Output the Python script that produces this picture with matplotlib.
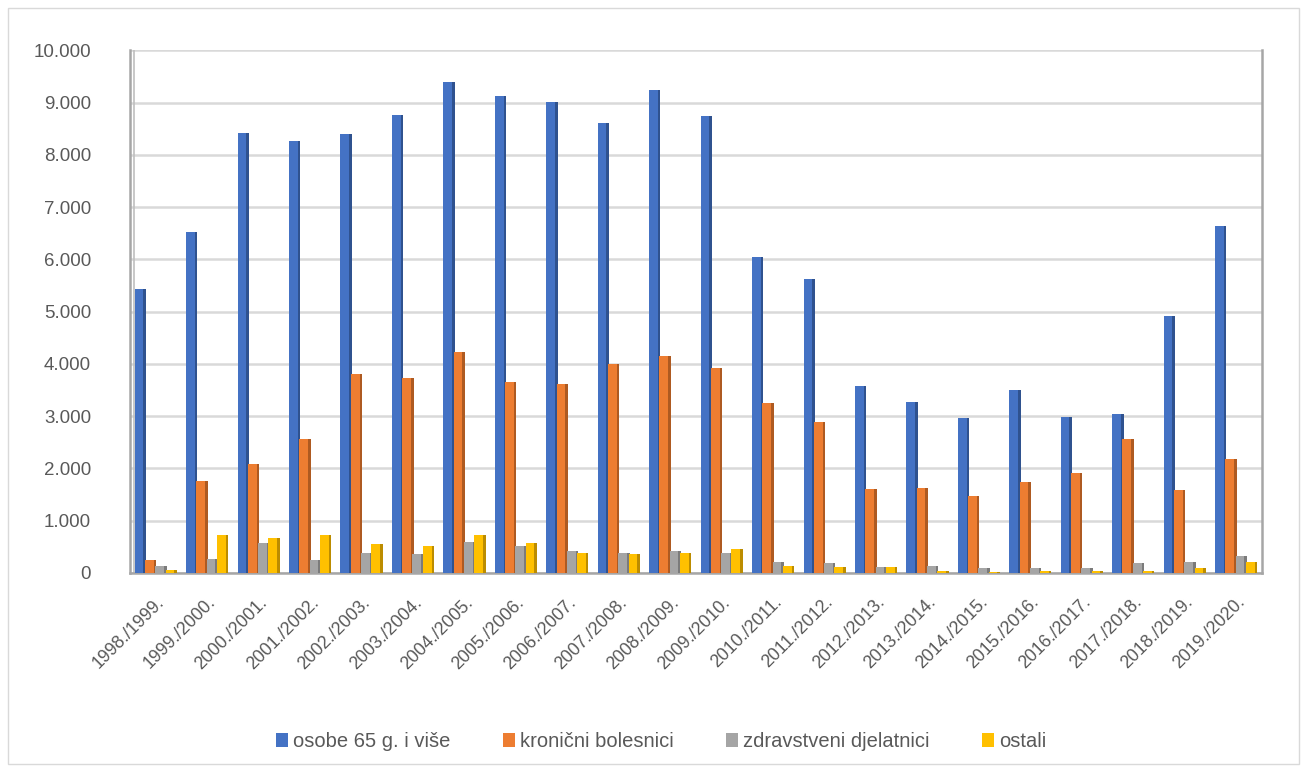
import matplotlib.pyplot as plt
from matplotlib.patches import Rectangle
import numpy as np

plt.rcParams['font.family'] = ['Liberation Sans', 'DejaVu Sans']

seasons = ["1998./1999.", "1999./2000.", "2000./2001.", "2001./2002.", "2002./2003.",
           "2003./2004.", "2004./2005.", "2005./2006.", "2006./2007.", "2007./2008.",
           "2008./2009.", "2009./2010.", "2010./2011.", "2011./2012.", "2012./2013.",
           "2013./2014.", "2014./2015.", "2015./2016.", "2016./2017.", "2017./2018.",
           "2018./2019.", "2019./2020."]

osobe_65 = [5430, 6530, 8420, 8270, 8400, 8770, 9390, 9120, 9020, 8610, 9240,
            8750, 6050, 5630, 3570, 3270, 2970, 3500, 2990, 3050, 4920, 6630]
kronicni = [240, 1760, 2080, 2570, 3810, 3740, 4230, 3650, 3620, 3990, 4150,
            3920, 3250, 2890, 1600, 1620, 1470, 1750, 1910, 2560, 1580, 2180]
zdravstveni = [140, 270, 580, 240, 390, 355, 600, 525, 420, 390, 430,
               390, 205, 185, 120, 135, 90, 100, 100, 190, 215, 320]
ostali = [60, 730, 670, 730, 560, 525, 730, 580, 375, 355, 390,
          465, 135, 115, 120, 35, 20, 30, 30, 45, 100, 205]

series_names = ["osobe 65 g. i više", "kronični bolesnici", "zdravstveni djelatnici", "ostali"]
y_ticks = [0, 1000, 2000, 3000, 4000, 5000, 6000, 7000, 8000, 9000, 10000]
y_tick_labels = ["0", "1.000", "2.000", "3.000", "4.000", "5.000",
                 "6.000", "7.000", "8.000", "9.000", "10.000"]

colors = ["#4472C4", "#ED7D31", "#A5A5A5", "#FFC000"]
side_colors = ["#2F528F", "#AE5A21", "#7B7B7B", "#BC8C00"]
text_color = "#595959"

fig = plt.figure(figsize=(13.07, 7.72), dpi=100)
ax = fig.add_axes([0.0995, 0.2578, 0.866, 0.677])

x = np.arange(len(seasons))
front_w = 0.17
side_w = 0.05
step = 0.2
all_series = [osobe_65, kronicni, zdravstveni, ostali]
for i, vals in enumerate(all_series):
    pos = x + (i - 1.5) * step - side_w / 2
    ax.bar(pos, vals, width=front_w, color=colors[i], label=series_names[i], zorder=3 + i)
    ax.bar(pos + front_w / 2 + side_w / 2, vals, width=side_w, color=side_colors[i], zorder=3 + i)

ax.set_xlim(-0.5, len(seasons) - 0.5)
ax.set_ylim(0, 10000)
ax.set_yticks(y_ticks)
ax.set_yticklabels(y_tick_labels, fontsize=13.5, color=text_color)
ax.set_xticks(x)
ax.set_xticklabels(seasons, rotation=45, ha="right", rotation_mode="anchor",
                   fontsize=12.8, color=text_color)
ax.tick_params(axis="both", length=0)
ax.tick_params(axis="y", pad=28)
ax.tick_params(axis="x", pad=15)

ax.grid(axis="y", color="#d9d9d9", linewidth=1.8, zorder=0)
ax.set_axisbelow(True)
for side in ["left", "right", "bottom"]:
    ax.spines[side].set_color("#a6a6a6")
    ax.spines[side].set_linewidth(1.8)
ax.spines["top"].set_visible(False)
# second line of the 3D side wall
ax.axvline(-0.42, color="#bfbfbf", linewidth=1.2, zorder=1)

handles, labels = ax.get_legend_handles_labels()
fig.legend(handles, labels, loc="center", bbox_to_anchor=(0.506, 0.04), ncol=4,
           frameon=False, fontsize=14.5, handlelength=0.6, handleheight=0.7,
           handletextpad=0.25, columnspacing=2.6, labelcolor=text_color)

fig.patches.append(Rectangle((0.006, 0.01), 0.988, 0.98, transform=fig.transFigure,
                             fill=False, edgecolor="#d9d9d9", linewidth=1))

fig.savefig("out.png", dpi=100)
